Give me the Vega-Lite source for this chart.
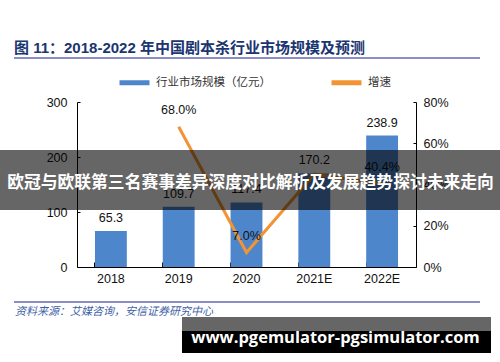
{
  "$schema": "https://vega.github.io/schema/vega-lite/v6.json",
  "width": 339,
  "height": 165,
  "autosize": {"type": "none"},
  "padding": {"left": 77, "top": 102, "right": 84, "bottom": 95},
  "background": "white",
  "config": {
    "view": {"stroke": null},
    "font": "Liberation Sans",
    "axis": {"grid": false, "domainColor": "#000", "tickColor": "#000", "labelFont": "Liberation Sans", "labelFontSize": 12.5, "labelColor": "#111", "title": null}
  },
  "data": {"values": [
    {"year": "2018", "size": 65.3, "growth": null},
    {"year": "2019", "size": 109.7, "growth": 0.68},
    {"year": "2020", "size": 117.4, "growth": 0.07},
    {"year": "2021E", "size": 170.2, "growth": 0.45},
    {"year": "2022E", "size": 238.9, "growth": 0.404}
  ]},
  "layer": [
    {
      "layer": [
        {
          "mark": {"type": "bar"},
          "encoding": {
            "x": {"field": "year", "type": "nominal", "sort": null, "scale": {"paddingInner": 0.53, "paddingOuter": 0.265},
                  "axis": {"labelAngle": 0, "bandPosition": 0, "tickSize": -5, "labelPadding": 10}},
            "y": {"field": "size", "type": "quantitative", "scale": {"domain": [0, 300]},
                  "axis": {"orient": "left", "values": [0, 50, 100, 150, 200, 250, 300], "tickSize": -3, "labelPadding": 13}},
            "color": {"datum": "行业市场规模（亿元）", "type": "nominal",
                      "scale": {"domain": ["行业市场规模（亿元）", "增速"], "range": ["#4E86CC", "#F39434"]},
                      "legend": {"orient": "none", "legendX": 40, "legendY": -37, "direction": "horizontal", "symbolType": "stroke", "symbolStrokeWidth": 5, "symbolSize": 900, "labelFont": "Noto Sans CJK SC", "labelFontSize": 11.5, "labelColor": "#333", "columnPadding": 50, "labelOffset": 4, "title": null,
                                 "encode": {"symbols": {"update": {"stroke": {"scale": "color", "field": "value"}}}}}}
          }
        },
        {
          "mark": {"type": "text", "baseline": "bottom", "dy": -6, "fontSize": 12.5, "font": "Liberation Sans", "color": "#111"},
          "encoding": {
            "x": {"field": "year", "type": "nominal", "sort": null},
            "y": {"field": "size", "type": "quantitative"},
            "text": {"field": "size", "type": "quantitative", "format": ".1f"}
          }
        }
      ]
    },
    {
      "layer": [
        {
          "mark": {"type": "line", "strokeWidth": 3},
          "encoding": {
            "x": {"field": "year", "type": "nominal", "sort": null},
            "y": {"field": "growth", "type": "quantitative", "scale": {"domain": [0, 0.8]},
                  "axis": {"orient": "right", "values": [0, 0.2, 0.4, 0.6, 0.8], "format": ".0%", "tickSize": -3, "labelPadding": 10}},
            "color": {"datum": "增速", "type": "nominal"}
          }
        },
        {
          "transform": [{"filter": "datum.year != '2021E'"}],
          "mark": {"type": "text", "baseline": "bottom", "dy": -10, "fontSize": 12.5, "font": "Liberation Sans", "color": "#111"},
          "encoding": {
            "x": {"field": "year", "type": "nominal", "sort": null},
            "y": {"field": "growth", "type": "quantitative"},
            "text": {"field": "growth", "type": "quantitative", "format": ".1%"}
          }
        }
      ]
    },
    {
      "data": {"values": [{"t": "图 11：2018-2022 年中国剧本杀行业市场规模及预测"}]},
      "mark": {"type": "text", "align": "left", "baseline": "alphabetic", "fontSize": 15, "fontWeight": "bold", "font": "Liberation Sans, Noto Sans CJK SC", "color": "#1B3570"},
      "encoding": {"x": {"value": -63}, "y": {"value": -49}, "text": {"field": "t"}}
    },
    {
      "data": {"values": [{"p": "top"}]},
      "mark": {"type": "rule", "color": "#8C8CC8", "strokeWidth": 2},
      "encoding": {"x": {"value": -63}, "x2": {"value": 403}, "y": {"value": -44}}
    },
    {
      "data": {"values": [{"p": "bottom"}]},
      "mark": {"type": "rule", "color": "#8C8CC8", "strokeWidth": 2},
      "encoding": {"x": {"value": -63}, "x2": {"value": 403}, "y": {"value": 200}}
    },
    {
      "data": {"values": [{"t": "资料来源：艾媒咨询，安信证券研究中心"}]},
      "mark": {"type": "text", "align": "left", "baseline": "middle", "fontSize": 11, "fontStyle": "italic", "font": "Noto Sans CJK SC", "color": "#3F5FA8"},
      "encoding": {"x": {"value": -62}, "y": {"value": 210}, "text": {"field": "t"}}
    },
    {
      "data": {"values": [{"t": "欧冠与欧联第三名赛事差异深度对比解析及发展趋势探讨未来走向"}]},
      "layer": [
        {
          "mark": {"type": "rect", "color": "#000", "opacity": 0.6},
          "encoding": {"x": {"value": -77}, "x2": {"value": 423}, "y": {"value": 48}, "y2": {"value": 108}}
        },
        {
          "mark": {"type": "text", "align": "center", "baseline": "middle", "fontSize": 16.8, "fontWeight": "bold", "font": "Noto Sans CJK SC", "color": "#fff"},
          "encoding": {"x": {"value": 173.5}, "y": {"value": 81}, "text": {"field": "t"}}
        }
      ]
    },
    {
      "data": {"values": [{"t": "www.pgemulator-pgsimulator.com"}]},
      "layer": [
        {
          "mark": {"type": "rect", "color": "#000", "opacity": 0.6},
          "encoding": {"x": {"value": 105}, "x2": {"value": 414}, "y": {"value": 215}, "y2": {"value": 229}}
        },
        {
          "mark": {"type": "rect", "color": "#000", "opacity": 1},
          "encoding": {"x": {"value": 105}, "x2": {"value": 414}, "y": {"value": 229}, "y2": {"value": 251}}
        },
        {
          "mark": {"type": "text", "align": "center", "baseline": "middle", "fontSize": 16.5, "fontWeight": "bold", "font": "Open Sans", "color": "#fff"},
          "encoding": {"x": {"value": 258.5}, "y": {"value": 236}, "text": {"field": "t"}}
        }
      ]
    }
  ],
  "resolve": {"scale": {"y": "independent"}}
}
